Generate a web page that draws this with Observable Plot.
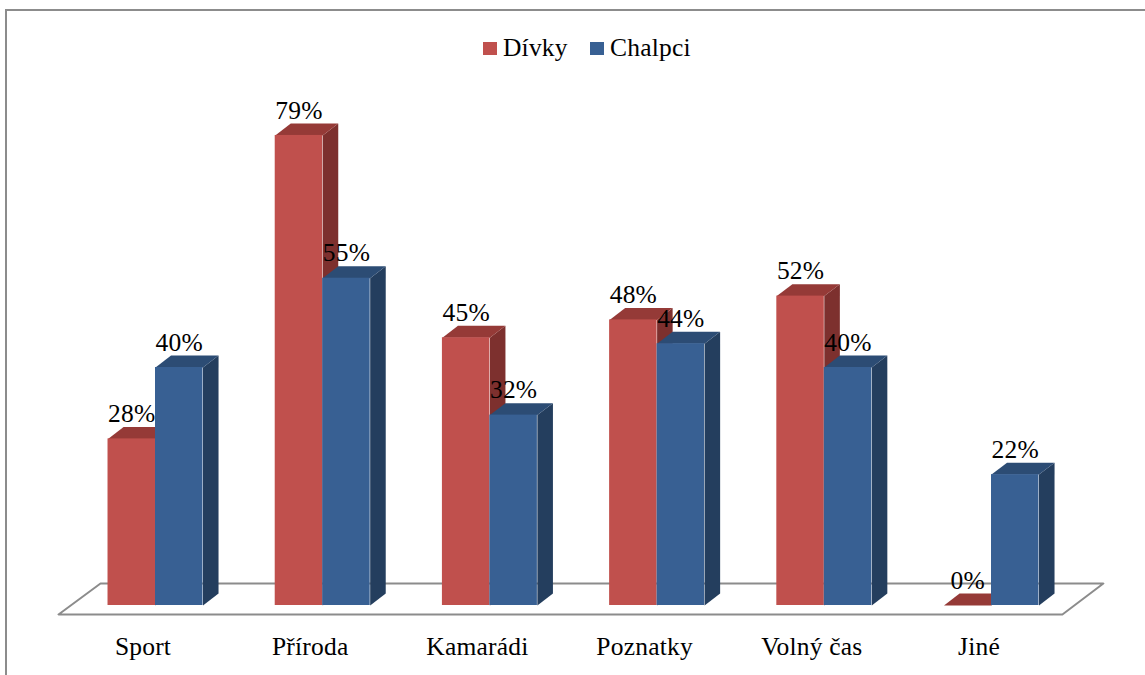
<!DOCTYPE html>
<html><head><meta charset="utf-8">
<script src="https://cdn.jsdelivr.net/npm/d3@7"></script>
<script src="https://cdn.jsdelivr.net/npm/@observablehq/plot@0.6"></script>
<style>
html,body{margin:0;padding:0;background:#fff;overflow:hidden;width:1145px;height:675px;}
#chart{position:absolute;left:0;top:0;}
#frame{position:absolute;left:5px;top:9px;width:1300px;height:800px;border:2px solid #8c8c8c;box-sizing:border-box;pointer-events:none;}
#legend{position:absolute;left:0;top:0;font-family:"Liberation Serif","Times New Roman",serif;font-size:25.5px;letter-spacing:0.2px;color:#000;}
.sw{position:absolute;width:14px;height:13px;}
.lt{position:absolute;line-height:24px;white-space:nowrap;}
</style></head><body>
<div id="chart"></div><div id="frame"></div><div id="legend"></div>
<script>
// ---- data ----
const categories = ["Sport", "Příroda", "Kamarádi", "Poznatky", "Volný čas", "Jiné"];
const seriesNames = ["Dívky", "Chalpci"];
const divky = [28, 79, 45, 48, 52, 0];
const chalpci = [40, 55, 32, 44, 40, 22];

// ---- styling / geometry constants (data units of the scales) ----
const colors = {
  "Dívky":   {front: "#C0504D", top: "#953A37", side: "#7D302E"},
  "Chalpci": {front: "#386093", top: "#2C4C74", side: "#243E5E"}
};
const BAR = 0.284, DX = 0.093, DY = 2.0;
const floorFront = -1.51, floorBack = 3.7;
const floorX = [-0.080, 5.924, 6.169, 0.171];
const FS = 25.5;

const seriesValues = {"Dívky": divky, "Chalpci": chalpci};
const bars = [];
seriesNames.forEach((s, k) => {
  seriesValues[s].forEach((v, i) => {
    const x0 = i + 0.5 + (k - 1) * BAR;
    bars.push({series: s, cat: categories[i], i, v, x0, x1: x0 + BAR});
  });
});
const faces = [];
bars.forEach(b => {
  const id = b.series + b.i;
  [[b.x1, 0], [b.x1, b.v], [b.x1 + DX, b.v + DY], [b.x1 + DX, DY]]
    .forEach(([x, y]) => faces.push({id: "s" + id, face: "side", series: b.series, x, y}));
  [[b.x0, b.v], [b.x1, b.v], [b.x1 + DX, b.v + DY], [b.x0 + DX, b.v + DY]]
    .forEach(([x, y]) => faces.push({id: "t" + id, face: "top", series: b.series, x, y}));
});
const floor = [
  {x: floorX[0], y: floorFront}, {x: floorX[1], y: floorFront},
  {x: floorX[2], y: floorBack}, {x: floorX[3], y: floorBack}
];

const marks = [
  Plot.line(floor, {x: "x", y: "y", curve: "linear-closed", fill: "white", stroke: "#8c8c8c", strokeWidth: 2})
];
seriesNames.forEach(s => {
  marks.push(Plot.line(faces.filter(f => f.series === s && f.face === "side"),
    {x: "x", y: "y", z: "id", curve: "linear-closed", fill: colors[s].side, stroke: "none"}));
  marks.push(Plot.line(faces.filter(f => f.series === s && f.face === "top"),
    {x: "x", y: "y", z: "id", curve: "linear-closed", fill: colors[s].top, stroke: "none"}));
  marks.push(Plot.rect(bars.filter(b => b.series === s),
    {x1: "x0", x2: "x1", y1: 0, y2: "v", fill: colors[s].front}));
});
marks.push(Plot.text(bars, {x: d => (d.x0 + d.x1) / 2, y: "v", text: d => d.v + "%", dy: -25, fontSize: FS, fill: "#000"}));
marks.push(Plot.axisX(categories.map((c, i) => i + 0.5), {
  tickFormat: d => categories[Math.floor(d)], tickSize: 0, tickPadding: 31, dx: -12.5,
  fontSize: FS, label: null, anchor: "bottom"
}));

const chart = Plot.plot({
  width: 1145, height: 675,
  marginLeft: 71.4, marginRight: 70.4, marginTop: 10, marginBottom: 70,
  x: {type: "linear", domain: [0, 6], label: null},
  y: {domain: [0, 100], axis: null},
  style: {fontFamily: "'Liberation Serif', 'Times New Roman', serif", fontSize: FS + "px", letterSpacing: "0.2px", background: "transparent", color: "#000"},
  marks
});
document.getElementById("chart").appendChild(chart);

// ---- legend ----
const legend = document.getElementById("legend");
const legendPos = [{sw: 483, tx: 503}, {sw: 590, tx: 610}];
seriesNames.forEach((s, k) => {
  const sw = document.createElement("div");
  sw.className = "sw"; sw.style.left = legendPos[k].sw + "px"; sw.style.top = "42px";
  sw.style.background = colors[s].front;
  legend.appendChild(sw);
  const t = document.createElement("div");
  t.className = "lt"; t.style.left = legendPos[k].tx + "px"; t.style.top = "36px";
  t.textContent = s;
  legend.appendChild(t);
});
</script>
</body></html>
